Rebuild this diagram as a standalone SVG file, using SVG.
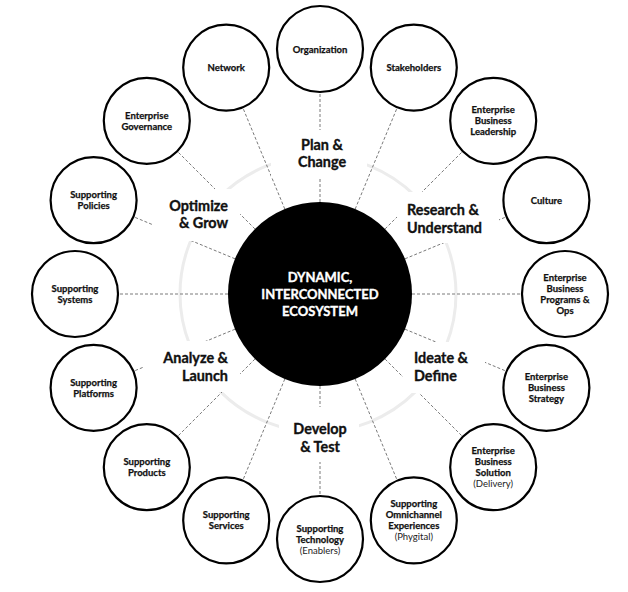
<svg xmlns="http://www.w3.org/2000/svg" width="628" height="592" viewBox="0 0 628 592">
<style>
  .ring { fill: none; stroke: #ececec; stroke-width: 3; }
  .conn line { stroke: #7a7a7a; stroke-width: 1; stroke-dasharray: 3 2; }
  .mask { fill: #ffffff; }
  .node circle { fill: #ffffff; stroke: #000000; stroke-width: 2.2; }
  .node text { font-family: Lato, "Liberation Sans", "DejaVu Sans", sans-serif; font-weight: 700; font-size: 9.5px; text-anchor: middle; fill: #111111; stroke: #111111; stroke-width: 0.25; }
  .node text.reg { font-weight: 400; fill: #222222; stroke: none; }
  .lbl { font-family: Lato, "Liberation Sans", "DejaVu Sans", sans-serif; font-weight: 700; font-size: 14.4px; fill: #111111; stroke: #111111; stroke-width: 0.35; }
  .hub text { font-family: Lato, "Liberation Sans", "DejaVu Sans", sans-serif; font-weight: 700; font-size: 13px; text-anchor: middle; fill: #ffffff; stroke: #ffffff; stroke-width: 0.35; }
</style>
<rect width="628" height="592" fill="#ffffff"/>
<circle class="ring" cx="318" cy="294" r="138"/>
<g id="connectors" class="conn">
  <line x1="320" y1="202" x2="320" y2="92"/>
  <line x1="355.2" y1="209.0" x2="397.3" y2="107.4"/>
  <line x1="385.1" y1="228.9" x2="462.8" y2="151.2"/>
  <line x1="405.0" y1="258.8" x2="506.6" y2="216.7"/>
  <line x1="412" y1="294" x2="522" y2="294"/>
  <line x1="405.0" y1="329.2" x2="506.6" y2="371.3"/>
  <line x1="385.1" y1="359.1" x2="462.8" y2="436.8"/>
  <line x1="355.2" y1="379.0" x2="397.3" y2="480.6"/>
  <line x1="320" y1="386" x2="320" y2="496"/>
  <line x1="284.8" y1="379.0" x2="242.7" y2="480.6"/>
  <line x1="254.9" y1="359.1" x2="177.2" y2="436.8"/>
  <line x1="235.0" y1="329.2" x2="133.4" y2="371.3"/>
  <line x1="228" y1="294" x2="118" y2="294"/>
  <line x1="235.0" y1="258.8" x2="133.4" y2="216.7"/>
  <line x1="254.9" y1="228.9" x2="177.2" y2="151.2"/>
  <line x1="284.8" y1="209.0" x2="242.7" y2="107.4"/>
</g>
<g id="phase-labels">
  <g id="plan">
    <rect class="mask" x="271" y="130" width="96" height="47"/>
    <text class="lbl" x="322" y="150" text-anchor="middle">Plan &amp;</text>
    <text class="lbl" x="322" y="167" text-anchor="middle">Change</text>
  </g>
  <g id="research">
    <rect class="mask" x="397" y="192" width="102" height="51"/>
    <text class="lbl" x="407" y="215">Research &amp;</text>
    <text class="lbl" x="407" y="233">Understand</text>
  </g>
  <g id="ideate">
    <rect class="mask" x="403" y="342" width="82" height="51"/>
    <text class="lbl" x="414" y="363">Ideate &amp;</text>
    <text class="lbl" x="414" y="381">Define</text>
  </g>
  <g id="develop">
    <rect class="mask" x="279" y="407" width="80" height="55"/>
    <text class="lbl" x="320" y="434" text-anchor="middle">Develop</text>
    <text class="lbl" x="320" y="452" text-anchor="middle">&amp; Test</text>
  </g>
  <g id="analyze">
    <rect class="mask" x="144" y="341" width="96" height="51"/>
    <text class="lbl" x="228" y="363" text-anchor="end">Analyze &amp;</text>
    <text class="lbl" x="228" y="381" text-anchor="end">Launch</text>
  </g>
  <g id="optimize">
    <rect class="mask" x="153" y="189" width="87" height="52"/>
    <text class="lbl" x="228" y="211" text-anchor="end">Optimize</text>
    <text class="lbl" x="228" y="228" text-anchor="end">&amp; Grow</text>
  </g>
</g>
<g id="hub" class="hub">
  <circle cx="320" cy="294" r="92" fill="#000000"/>
  <text x="320" y="282">DYNAMIC,</text>
  <text x="320" y="299">INTERCONNECTED</text>
  <text x="320" y="316">ECOSYSTEM</text>
</g>
<g id="organization" class="node">
  <circle cx="320" cy="49" r="43"/>
  <text x="320" y="52.5">Organization</text>
</g>
<g id="stakeholders" class="node">
  <circle cx="413.8" cy="67.6" r="43"/>
  <text x="413.8" y="71">Stakeholders</text>
</g>
<g id="enterprise-business-leadership" class="node">
  <circle cx="493.2" cy="120.8" r="43"/>
  <text x="493.2" y="113.3">Enterprise</text>
  <text x="493.2" y="124.3">Business</text>
  <text x="493.2" y="135.3">Leadership</text>
</g>
<g id="culture" class="node">
  <circle cx="546.4" cy="200.2" r="43"/>
  <text x="546.4" y="203.7">Culture</text>
</g>
<g id="enterprise-business-programs" class="node">
  <circle cx="565" cy="294" r="43"/>
  <text x="565" y="281">Enterprise</text>
  <text x="565" y="292">Business</text>
  <text x="565" y="303">Programs &amp;</text>
  <text x="565" y="314">Ops</text>
</g>
<g id="enterprise-business-strategy" class="node">
  <circle cx="546.4" cy="387.8" r="43"/>
  <text x="546.4" y="380.3">Enterprise</text>
  <text x="546.4" y="391.3">Business</text>
  <text x="546.4" y="402.3">Strategy</text>
</g>
<g id="enterprise-business-solution" class="node">
  <circle cx="493.2" cy="467.2" r="43"/>
  <text x="493.2" y="454.2">Enterprise</text>
  <text x="493.2" y="465.2">Business</text>
  <text x="493.2" y="476.2">Solution</text>
  <text class="reg" x="493.2" y="487.2">(Delivery)</text>
</g>
<g id="supporting-omnichannel" class="node">
  <circle cx="413.8" cy="520.4" r="43"/>
  <text x="413.8" y="507.4">Supporting</text>
  <text x="413.8" y="518.4">Omnichannel</text>
  <text x="413.8" y="529.4">Experiences</text>
  <text class="reg" x="413.8" y="540.4">(Phygital)</text>
</g>
<g id="supporting-technology" class="node">
  <circle cx="320" cy="539" r="43"/>
  <text x="320" y="531.5">Supporting</text>
  <text x="320" y="542.5">Technology</text>
  <text class="reg" x="320" y="553.5">(Enablers)</text>
</g>
<g id="supporting-services" class="node">
  <circle cx="226.2" cy="520.4" r="43"/>
  <text x="226.2" y="518.4">Supporting</text>
  <text x="226.2" y="529.4">Services</text>
</g>
<g id="supporting-products" class="node">
  <circle cx="146.8" cy="467.2" r="43"/>
  <text x="146.8" y="465.2">Supporting</text>
  <text x="146.8" y="476.2">Products</text>
</g>
<g id="supporting-platforms" class="node">
  <circle cx="93.6" cy="387.8" r="43"/>
  <text x="93.6" y="385.8">Supporting</text>
  <text x="93.6" y="396.8">Platforms</text>
</g>
<g id="supporting-systems" class="node">
  <circle cx="75" cy="294" r="43"/>
  <text x="75" y="292">Supporting</text>
  <text x="75" y="303">Systems</text>
</g>
<g id="supporting-policies" class="node">
  <circle cx="93.6" cy="200.2" r="43"/>
  <text x="93.6" y="198.2">Supporting</text>
  <text x="93.6" y="209.2">Policies</text>
</g>
<g id="enterprise-governance" class="node">
  <circle cx="146.8" cy="120.8" r="43"/>
  <text x="146.8" y="118.8">Enterprise</text>
  <text x="146.8" y="129.8">Governance</text>
</g>
<g id="network" class="node">
  <circle cx="226.2" cy="67.6" r="43"/>
  <text x="226.2" y="71.1">Network</text>
</g>
</svg>
